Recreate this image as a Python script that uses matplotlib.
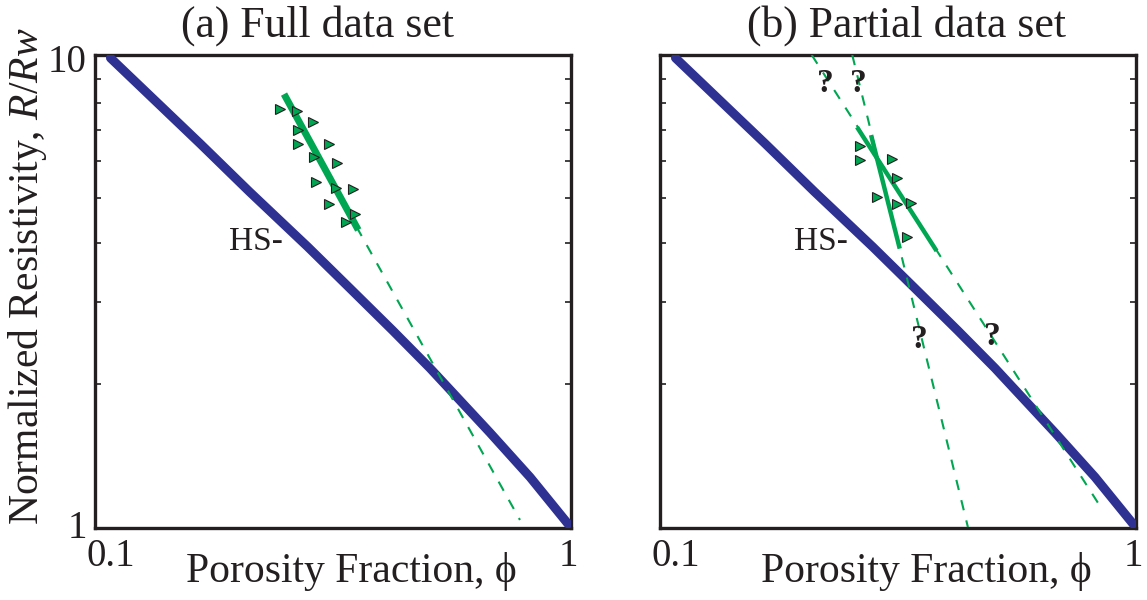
import numpy as np
import matplotlib
matplotlib.use("Agg")
import matplotlib.pyplot as plt
from matplotlib.ticker import FixedLocator, NullLocator, NullFormatter, LogLocator

plt.rcParams['font.family'] = ['Liberation Serif', 'DejaVu Serif']
plt.rcParams['mathtext.fontset'] = 'custom'
plt.rcParams['mathtext.rm'] = 'Liberation Serif'
plt.rcParams['mathtext.it'] = 'Liberation Serif:italic'

# Hashin-Shtrikman lower bound (normalized resistivity vs porosity)
hs_phi = [0.1, 0.157, 0.201, 0.270, 0.333, 0.414, 0.499, 0.675, 0.826, 1.0]
hs_R = [10.0, 6.55, 5.17, 3.93, 3.21, 2.60, 2.16, 1.57, 1.26, 1.0]

# (a) full data set
full_phi = [0.235, 0.255, 0.277, 0.257, 0.257, 0.301, 0.279, 0.312,
            0.281, 0.311, 0.339, 0.301, 0.342, 0.327]
full_R = [7.76, 7.71, 7.28, 7.00, 6.53, 6.54, 6.14, 5.94,
          5.43, 5.25, 5.23, 4.85, 4.62, 4.45]
full_fit_phi = [0.2415, 0.345]
full_fit_R = [8.24, 4.34]
full_ext_phi = [0.345, 0.785]
full_ext_R = [4.34, 1.02]

# (b) partial data set
part_phi = [0.253, 0.253, 0.297, 0.305, 0.276, 0.305, 0.327, 0.320]
part_R = [6.47, 6.04, 6.07, 5.52, 5.02, 4.86, 4.88, 4.12]
fitA_phi = [0.2683, 0.3082]
fitA_R = [6.76, 3.94]
extA_phi = [0.2434, 0.4355]
extA_R = [10.15, 0.985]
fitB_phi = [0.2508, 0.3698]
fitB_R = [7.04, 3.89]
extB_phi = [0.1985, 0.843]
extB_R = [10.15, 1.10]
qmark_phi = [0.2123, 0.2508, 0.3406, 0.4923]
qmark_R = [8.83, 8.83, 2.49, 2.52]

NAVY = '#2e3192'
GREEN = '#00a651'
INK = '#231f20'

fig = plt.figure(figsize=(11.47, 6.0), dpi=100)
ax1 = fig.add_axes([0.0828, 0.1192, 0.4154, 0.7892])
ax2 = fig.add_axes([0.5754, 0.1192, 0.4154, 0.7892])


def setup(ax, show_y, label_x):
    ax.set_xscale('log')
    ax.set_yscale('log')
    ax.set_xlim(0.0925, 1.017)
    ax.set_ylim(0.978, 10.15)
    ax.xaxis.set_major_locator(FixedLocator([0.1, 1]))
    ax.xaxis.set_minor_locator(NullLocator())
    ax.set_xticklabels(['0.1', '1'])
    ax.yaxis.set_major_locator(FixedLocator([1, 10]))
    ax.yaxis.set_minor_locator(LogLocator(base=10, subs=range(2, 10)))
    ax.yaxis.set_minor_formatter(NullFormatter())
    ax.set_yticklabels(['1', '10'])
    ax.tick_params(which='major', length=0, labelsize=28, labelcolor=INK)
    ax.tick_params(axis='x', pad=7)
    ax.tick_params(axis='y', pad=6, labelleft=show_y)
    ax.tick_params(which='minor', direction='in', length=4, width=1.2,
                   left=True, right=True, color=INK)
    for s in ax.spines.values():
        s.set_linewidth(2.4)
        s.set_color(INK)
    ax.plot(hs_phi, hs_R, color=NAVY, lw=6.5, solid_capstyle='round', zorder=3)
    ax.text(0.182, 3.87, 'HS-', fontsize=24, ha='left', va='baseline', color=INK)
    ax.set_xlabel('Porosity Fraction, ϕ', fontsize=30, color=INK)
    ax.xaxis.set_label_coords(label_x, -0.05)


setup(ax1, True, 0.539)
setup(ax2, False, 0.559)

ax1.set_ylabel('Normalized Resistivity, $R/Rw$', fontsize=30, color=INK)
ax1.yaxis.set_label_coords(-0.097, 0.533)

# panel (a)
ax1.plot(full_ext_phi, full_ext_R, color=GREEN, lw=1.5, dashes=(5, 5), zorder=4)
ax1.plot(full_fit_phi, full_fit_R, color=GREEN, lw=5, zorder=5)
ax1.plot(full_phi, full_R, ls='none', marker='>', ms=7, mfc=GREEN,
         mec=INK, mew=0.8, zorder=6)
ax1.text(0.468, 1.038, '(a) Full data set', transform=ax1.transAxes,
         fontsize=31.5, ha='center', va='baseline', color=INK)

# panel (b)
for ph, r in [(extA_phi, extA_R), (extB_phi, extB_R)]:
    ax2.plot(ph, r, color=GREEN, lw=1.5, dashes=(5, 5), zorder=4)
for ph, r in [(fitA_phi, fitA_R), (fitB_phi, fitB_R)]:
    ax2.plot(ph, r, color=GREEN, lw=3.2, zorder=5)
ax2.plot(part_phi, part_R, ls='none', marker='>', ms=7, mfc=GREEN,
         mec=INK, mew=0.8, zorder=6)
for ph, r in zip(qmark_phi, qmark_R):
    ax2.text(ph, r, '?', fontsize=24, fontweight='bold', ha='center',
             va='center', color=INK, zorder=7)
ax2.text(0.518, 1.038, '(b) Partial data set', transform=ax2.transAxes,
         fontsize=31.5, ha='center', va='baseline', color=INK)

fig.savefig('out.png', dpi=100)
